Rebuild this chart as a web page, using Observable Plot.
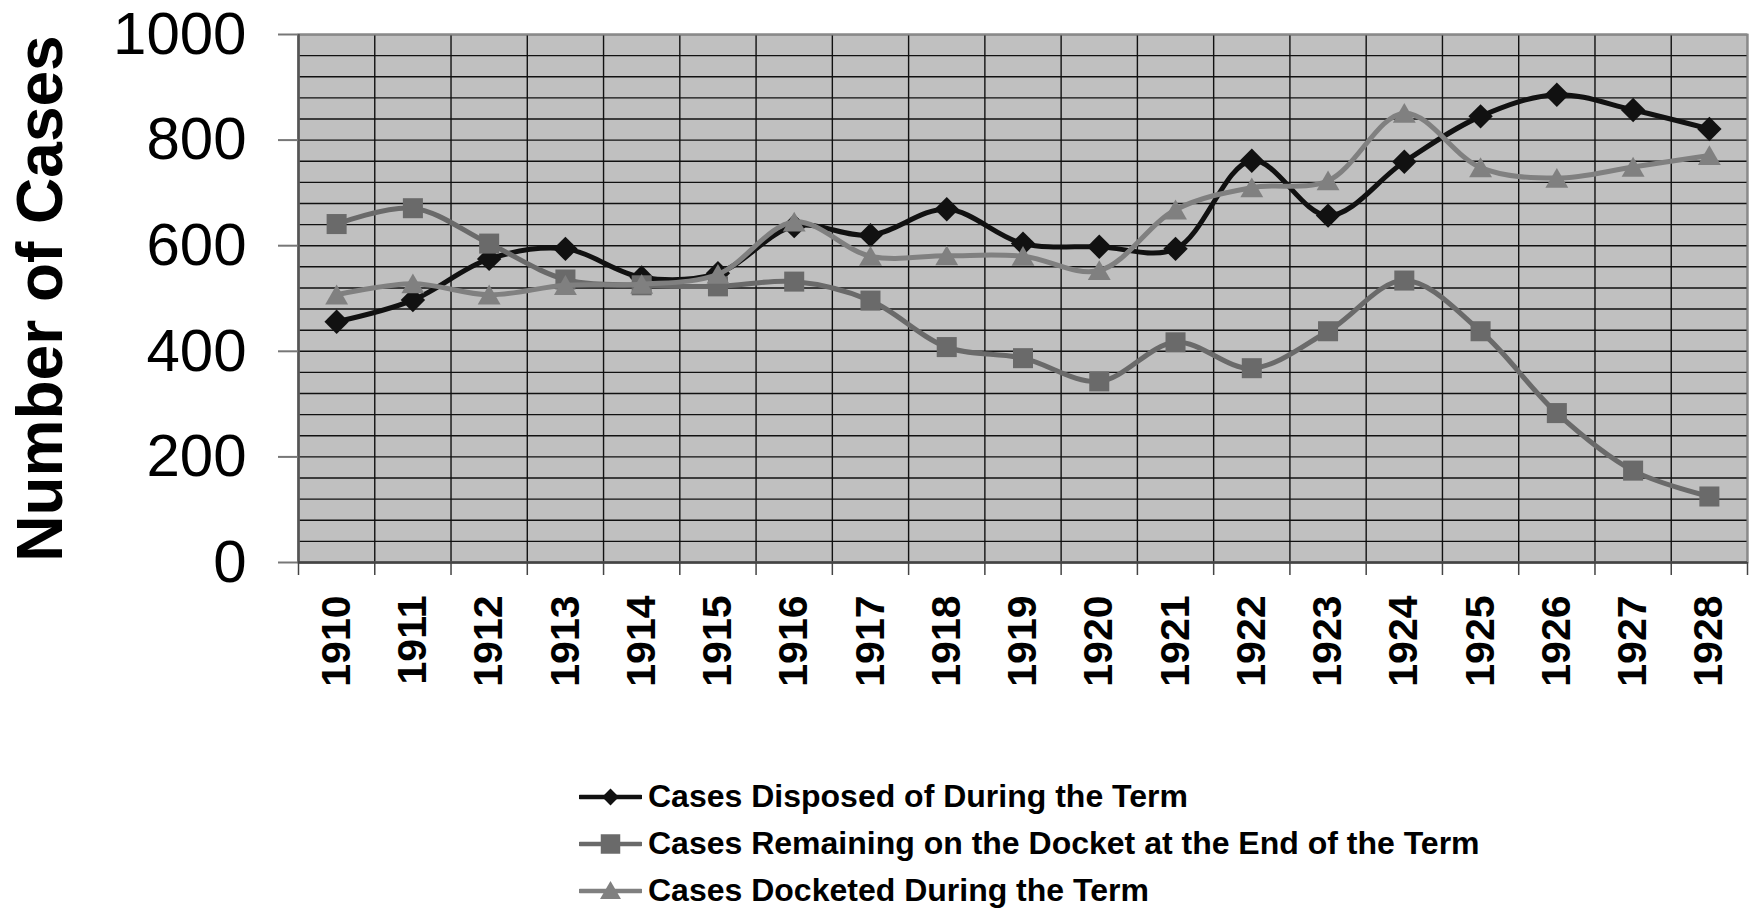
<!DOCTYPE html>
<html><head><meta charset="utf-8">
<script src="https://cdn.jsdelivr.net/npm/d3@7"></script>
<script src="https://cdn.jsdelivr.net/npm/@observablehq/plot@0.6"></script>
<style>
body{margin:0;background:#fff;font-family:"Liberation Sans",Arial,sans-serif;}
#legend{padding-left:579px;padding-top:2px;}
.row{height:47px;display:flex;align-items:center;}
.row span{font-weight:bold;font-size:32px;margin-left:6px;color:#000;white-space:nowrap;}
</style></head><body>
<div id="chart"></div><div id="legend"></div>
<script>
const years = [1910,1911,1912,1913,1914,1915,1916,1917,1918,1919,1920,1921,1922,1923,1924,1925,1926,1927,1928];
const disposed  = [456,497,575,594,540,548,637,620,669,604,598,594,761,657,759,845,886,857,821];
const remaining = [641,671,604,536,525,523,532,496,408,387,343,417,368,438,534,438,283,174,125];
const docketed  = [507,528,507,525,527,546,645,580,581,580,553,668,710,723,851,748,728,749,771];
const seriesNames = ["Cases Disposed of During the Term","Cases Remaining on the Docket at the End of the Term","Cases Docketed During the Term"];
const yTitle = "Number of Cases";
const yTicks = [0,200,400,600,800,1000];
const yMinorStep = 40;

const seriesValues = [disposed, remaining, docketed];
const seriesColors = ["#111111", "#6a6a6a", "#808080"];
const seriesSymbols = ["diamond2", "square", "triangle"];
const seriesR = [11, 11.3, 8.5];
const seriesDy = [0, 0, 3];

const rows = seriesNames.map((name, i) => years.map((yr, j) => ({series: name, year: yr, value: seriesValues[i][j]})));
const boundaries = [years[0] - 0.5, ...years.map(y => y + 0.5)];
const minor = d3.range(0, yTicks[yTicks.length-1] + 1, yMinorStep);

const marks = [
  Plot.frame({fill: "#c0c0c0"}),
  Plot.gridY(minor, {stroke: "#111", strokeOpacity: 1, strokeWidth: 1.4}),
  Plot.gridX(boundaries, {stroke: "#111", strokeOpacity: 1, strokeWidth: 1.4}),
  Plot.frame({stroke: "#8a8a8a", strokeWidth: 2}),
  Plot.ruleX([boundaries[0]], {stroke: "#555", strokeWidth: 2.5}),
  Plot.ruleY([0], {stroke: "#444", strokeWidth: 2.5}),
  Plot.axisY(yTicks, {tickSize: 20, tickPadding: 32, fontSize: 60, stroke: "#777", strokeWidth: 2, label: null, tickFormat: d => String(d)}),
  Plot.axisX(boundaries, {tickSize: 13, tickFormat: () => "", label: null, stroke: "#444", strokeWidth: 1.5}),
  Plot.axisX(years, {tickSize: 0, tickPadding: 33, tickRotate: -90, fontSize: 41, fontWeight: "bold", label: null, tickFormat: d => String(d)}),
  Plot.text([yTitle], {frameAnchor: "left", textAnchor: "middle", lineAnchor: "middle", dx: -257, rotate: -90, fontSize: 64, fontWeight: "bold"})
];
rows.forEach((data, i) => {
  marks.push(Plot.line(data, {x: "year", y: "value", stroke: seriesColors[i], strokeWidth: 5, curve: "catmull-rom"}));
  marks.push(Plot.dot(data, {x: "year", y: "value", symbol: seriesSymbols[i], r: seriesR[i], fill: seriesColors[i], stroke: "none", dy: seriesDy[i]}));
});

const chart = Plot.plot({
  width: 1752, height: 771,
  marginLeft: 298, marginRight: 5, marginTop: 34, marginBottom: 209,
  style: {fontFamily: "'Liberation Sans', Arial, sans-serif", background: "#fff", color: "#000"},
  x: {type: "linear", domain: [boundaries[0], boundaries[boundaries.length-1]], axis: null},
  y: {domain: [yTicks[0], yTicks[yTicks.length-1]], axis: null},
  marks
});
document.getElementById("chart").appendChild(chart);

const legend = d3.select("#legend");
const legendSizes = [180, 380, 190];
seriesNames.forEach((name, i) => {
  const row = legend.append("div").attr("class", "row");
  const svg = row.append("svg").attr("width", 63).attr("height", 30);
  svg.append("line").attr("x1", 1).attr("x2", 62).attr("y1", 15).attr("y2", 15)
    .attr("stroke", seriesColors[i]).attr("stroke-width", 4.5).attr("stroke-linecap", "round");
  const symType = i === 0 ? d3.symbolDiamond2 : i === 1 ? d3.symbolSquare : d3.symbolTriangle;
  svg.append("path").attr("d", d3.symbol(symType, legendSizes[i])())
    .attr("transform", `translate(31.5,${i === 2 ? 17 : 15})`).attr("fill", seriesColors[i]);
  row.append("span").text(name);
});
</script>
</body></html>
